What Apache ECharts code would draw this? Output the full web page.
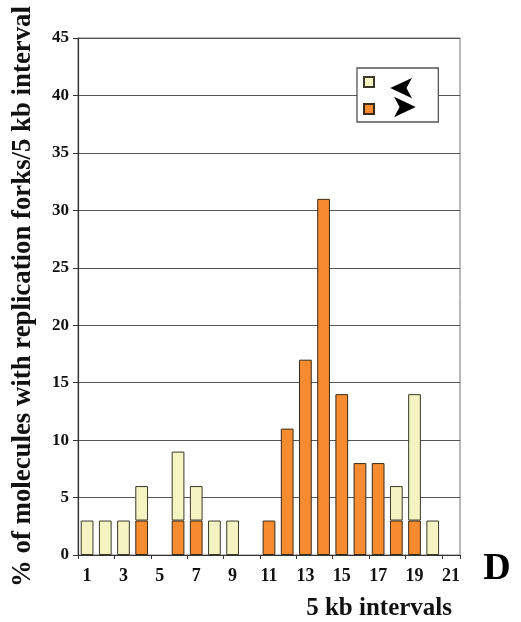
<!DOCTYPE html>
<html><head><meta charset="utf-8">
<script src="https://cdn.jsdelivr.net/npm/echarts@6/dist/echarts.min.js"></script>
<style>html,body{margin:0;padding:0;background:#fff}#c{width:521px;height:622px}</style>
</head><body><div id="c"></div>
<script>
const categories = ['1','2','3','4','5','6','7','8','9','10','11','12','13','14','15','16','17','18','19','20','21'];
const rightForks = [0,0,0,3,0,3,3,0,0,0,3,11,17,31,14,8,8,3,3,0,0];
const leftForks  = [3,3,3,3,0,6,3,3,3,0,0,0,0,0,0,0,0,3,11,3,0];
const yTicks = [0,5,10,15,20,25,30,35,40,45];
const yTitle = '% of molecules with replication forks/5 kb interval';
const xTitle = '5 kb intervals';
const panel = 'D';

const serif = '"Liberation Serif","DejaVu Serif",serif';
const chart = echarts.init(document.getElementById('c'));
const nz = a => a.map(v => v === 0 ? null : v);
chart.setOption({
  animation: false,
  grid: {left: 78, right: 61, top: 38, bottom: 67, show: true, borderColor: '#777', borderWidth: 1, outerBoundsMode: 'none', containLabel: false},
  legend: {
    orient: 'vertical', left: 357, top: 68,
    padding: [8, 56, 7, 6], itemGap: 15, itemWidth: 10, itemHeight: 10,
    backgroundColor: '#fff', borderColor: '#555', borderWidth: 1.3,
    data: [{name: '<', icon: 'rect'}, {name: '>', icon: 'rect'}],
    formatter: () => ' ',
    textStyle: {fontSize: 12}
  },
  xAxis: {
    type: 'category', data: categories,
    axisLine: {lineStyle: {color: '#333', width: 1.2}},
    axisTick: {show: true, length: 4, lineStyle: {color: '#333'}},
    axisLabel: {interval: 1, color: '#111', fontFamily: serif, fontWeight: 'bold', fontSize: 18, margin: 12},
    name: xTitle, nameLocation: 'end', nameGap: 0,
    nameTextStyle: {fontFamily: serif, fontWeight: 'bold', fontSize: 25, color: '#111', align: 'right', verticalAlign: 'top', padding: [41, 8, 0, 0]}
  },
  yAxis: {
    type: 'value', min: yTicks[0], max: yTicks[yTicks.length - 1], interval: 5,
    axisLine: {show: true, lineStyle: {color: '#333', width: 1.2}},
    axisTick: {show: true, length: 5, lineStyle: {color: '#333'}},
    axisLabel: {color: '#111', fontFamily: serif, fontWeight: 'bold', fontSize: 17, margin: 9},
    splitLine: {lineStyle: {color: '#555', width: 1.2}},
    name: yTitle, nameLocation: 'middle', nameGap: 41, nameRotate: 90,
    nameTextStyle: {fontFamily: serif, fontWeight: 'bold', fontSize: 26.8, color: '#111'}
  },
  series: [
    {name: '>', type: 'bar', stack: 's', data: nz(rightForks), barWidth: '70%',
     itemStyle: {color: '#f68b2f', borderColor: '#3a2a1a', borderWidth: 1}},
    {name: '<', type: 'bar', stack: 's', data: nz(leftForks), barWidth: '70%',
     itemStyle: {color: '#f4f3c1', borderColor: '#3a3a2a', borderWidth: 1}}
  ],
  graphic: [
    {type: 'text', x: 402, y: 86, rotation: Math.PI, z: 100, zlevel: 1,
     style: {text: '➤', fontSize: 32, fill: '#000', fontFamily: 'DejaVu Sans', align: 'center', verticalAlign: 'middle'}},
    {type: 'text', x: 404, y: 109, z: 100, zlevel: 1,
     style: {text: '➤', fontSize: 32, fill: '#000', fontFamily: 'DejaVu Sans', align: 'center', verticalAlign: 'middle'}},
    {type: 'text', x: 497, y: 569, z: 100,
     style: {text: panel, fontSize: 38, fontWeight: 'bold', fill: '#000', fontFamily: serif, align: 'center', verticalAlign: 'middle'}}
  ]
});
</script></body></html>
